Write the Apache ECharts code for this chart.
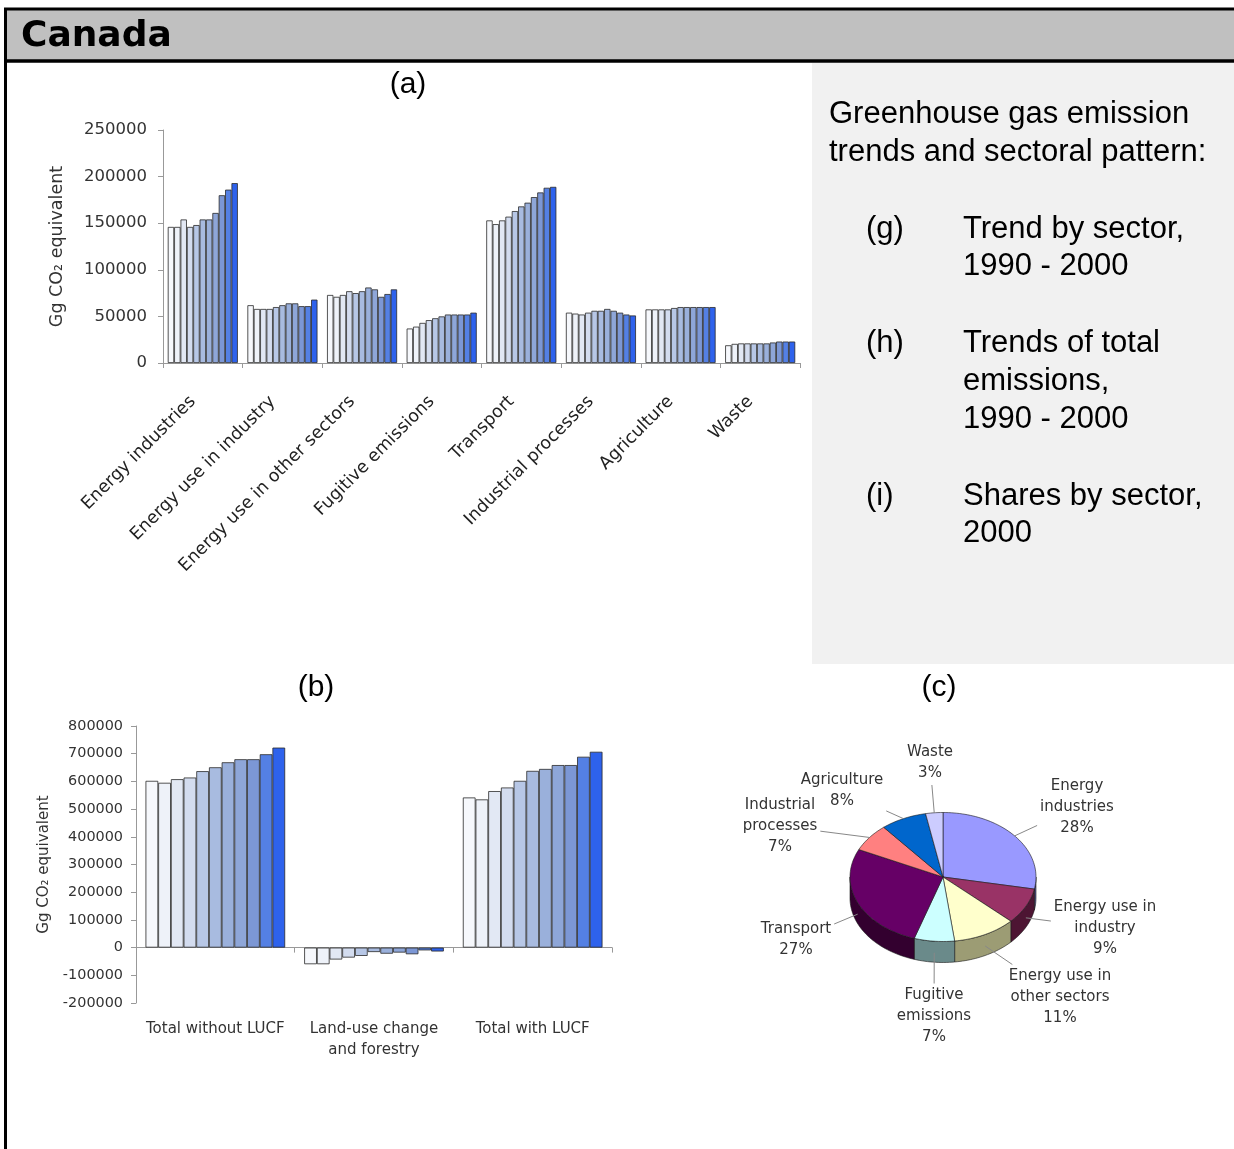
<!DOCTYPE html>
<html><head><meta charset="utf-8">
<script src="https://cdn.jsdelivr.net/npm/echarts@6/dist/echarts.min.js"></script>
<style>html,body{margin:0;padding:0;background:#fff;}#c{width:1234px;height:1149px;}</style>
</head><body><div id="c"></div>
<script>
// ---------- DATA ----------
const years = ['1990','1991','1992','1993','1994','1995','1996','1997','1998','1999','2000'];
const sectors = ['Energy industries','Energy use in industry','Energy use in other sectors','Fugitive emissions','Transport','Industrial processes','Agriculture','Waste'];
const energyIndustries   = [146000,146000,154000,146000,148000,154000,154000,161000,180000,186000,193000];
const energyUseIndustry  = [62000,58000,58000,58000,60000,62000,64000,64000,61000,61000,68000];
const energyUseOther     = [73000,71000,73000,77000,75000,77000,81000,79000,71000,74000,79000];
const fugitiveEmissions  = [37000,39000,43000,46000,48000,50000,52000,52000,52000,52000,54000];
const transport          = [153000,149000,153000,157000,163000,168000,172000,178000,183000,188000,189000];
const industrialProc     = [54000,53000,52000,54000,56000,56000,58000,56000,54000,52000,51000];
const agriculture        = [57500,57500,57500,57500,59000,60000,60000,60000,60000,60000,60000];
const waste              = [19000,20500,21000,21000,21000,21000,21000,22000,23000,23000,23000];
const sectorSeries = [energyIndustries,energyUseIndustry,energyUseOther,fugitiveEmissions,transport,industrialProc,agriculture,waste];

const totalCategories  = ['Total without LUCF','Land-use change\nand forestry','Total with LUCF'];
const totalWithoutLUCF = [602000,595000,608000,614000,637000,651000,669000,680000,680000,698000,722000];
const landUseChange    = [-60000,-60000,-43000,-36000,-30000,-16000,-22000,-18000,-24000,-10000,-14000];
const totalWithLUCF    = [542000,535000,565000,578000,602000,638000,645000,659000,659000,689000,707000];

const pieNames  = ['Energy\nindustries','Energy use in\nindustry','Energy use in\nother sectors','Fugitive\nemissions','Transport','Industrial\nprocesses','Agriculture','Waste'];
const pieShares = [28,9,11,7,27,7,8,3];

const yAxisTicksA = [0,50000,100000,150000,200000,250000];
const yAxisTicksB = [-200000,-100000,0,100000,200000,300000,400000,500000,600000,700000,800000];

// ---------- STYLE / LAYOUT ----------
const yearColors = ['#f6f8fc','#eef2f9','#e2e8f4','#d3dcef','#b7c7e6','#a8bbe0','#9ab0db','#8ea6d8','#7c97d5','#5480e4','#2e62ec'];
const pieColors  = ['#9999ff','#993366','#ffffcc','#ccffff','#660066','#ff8080','#0066cc','#ccccff'];
const pieSide    = ['#55558f','#4d1533','#9c9c74','#6a8a8a','#33002f','#8f4747','#003a73','#77779a'];
const PIE = {cx: 943, cy: 877, rx: 93, ry: 64.5, depth: 21};
const pieLabelOffset = [[134,-70],[162,51],[117,120],[-9,139],[-147,63],[-163,-51],[-101,-86],[-13,-114]];
const FONT = '"DejaVu Sans", sans-serif';
const BIG = '"Liberation Sans", Arial, sans-serif';

// ---------- BUILD ----------
const chart = echarts.init(document.getElementById('c'), null, {renderer: 'canvas'});

const seriesA = years.map((y, i) => ({
  type: 'bar', name: y, xAxisIndex: 0, yAxisIndex: 0,
  data: sectorSeries.map(arr => arr[i]),
  barGap: '0%', barCategoryGap: '12%',
  itemStyle: {color: yearColors[i], borderColor: '#2a2a2a', borderWidth: 0.8},
  animation: false
}));
const seriesB = years.map((y, i) => ({
  type: 'bar', name: y, xAxisIndex: 1, yAxisIndex: 1,
  data: [totalWithoutLUCF[i], landUseChange[i], totalWithLUCF[i]],
  barGap: '0%', barCategoryGap: '12%',
  itemStyle: {color: yearColors[i], borderColor: '#2a2a2a', borderWidth: 0.8},
  animation: false
}));

const pieTotal = pieShares.reduce((a, b) => a + b, 0);
const pieStart = []; let acc = 0; pieShares.forEach(v => { pieStart.push(acc); acc += v; });
function ellPt(t, dy) { return [PIE.cx + PIE.rx * Math.sin(t), PIE.cy - PIE.ry * Math.cos(t) + (dy || 0)]; }
function arcPts(a0, a1, dy) {
  const n = Math.max(2, Math.ceil((a1 - a0) / 0.03));
  const pts = [];
  for (let k = 0; k <= n; k++) pts.push(ellPt(a0 + (a1 - a0) * k / n, dy));
  return pts;
}
const measureCtx = document.createElement('canvas').getContext('2d');
const PIE_FONT_SIZE = 15, PIE_LH = 21;
function textBox(txt) {
  measureCtx.font = PIE_FONT_SIZE + 'px ' + FONT;
  const lines = txt.split('\n');
  const w = Math.max(...lines.map(l => measureCtx.measureText(l).width));
  return [w / 2, lines.length * PIE_LH / 2];
}

const pieSeries = {
  type: 'custom', coordinateSystem: 'none', animation: false,
  data: pieShares.map(v => [v]),
  renderItem: function (params, api) {
    const i = params.dataIndex;
    const v = api.value(0);
    const a0 = pieStart[i] / pieTotal * 2 * Math.PI;
    const a1 = (pieStart[i] + v) / pieTotal * 2 * Math.PI;
    const children = [];
    const s0 = Math.max(a0, Math.PI / 2), s1 = Math.min(a1, 3 * Math.PI / 2);
    if (s1 > s0) {
      const top = arcPts(s0, s1, 0);
      const bot = arcPts(s0, s1, PIE.depth).reverse();
      children.push({type: 'polygon', shape: {points: top.concat(bot)},
        style: {fill: pieSide[i], stroke: '#1a1a1a', lineWidth: 0.6}});
    }
    const face = [[PIE.cx, PIE.cy]].concat(arcPts(a0, a1, 0));
    children.push({type: 'polygon', shape: {points: face},
      style: {fill: pieColors[i], stroke: '#1a1a1a', lineWidth: 0.6}});
    // label
    const m = (a0 + a1) / 2;
    const txt = pieNames[i] + '\n' + v + '%';
    const L = [PIE.cx + pieLabelOffset[i][0], PIE.cy + pieLabelOffset[i][1]];
    const E = ellPt(m, Math.cos(m) < 0 ? PIE.depth * 0.55 : 0);
    const hb = textBox(txt);
    const dx = E[0] - L[0], dy = E[1] - L[1];
    const s = Math.min((hb[0] + 3) / Math.max(Math.abs(dx), 1e-6), (hb[1] + 1) / Math.max(Math.abs(dy), 1e-6));
    const end = [L[0] + dx * s, L[1] + dy * s];
    children.push({type: 'polyline', shape: {points: [E, end]}, style: {stroke: '#888', lineWidth: 1, fill: null}});
    children.push({type: 'text', style: {text: txt, x: L[0], y: L[1], align: 'center', verticalAlign: 'middle',
      font: PIE_FONT_SIZE + 'px ' + FONT, lineHeight: PIE_LH, fill: '#333'}});
    return {type: 'group', children: children};
  }
};

const axisLineStyle = {color: '#999', width: 1};
const option = {
  backgroundColor: '#fff',
  animation: false,
  grid: [
    {left: 163, top: 130, width: 637, height: 233},
    {left: 136, top: 726, width: 476, height: 277}
  ],
  xAxis: [
    {type: 'category', gridIndex: 0, data: sectors,
     axisLine: {lineStyle: axisLineStyle}, axisTick: {show: true, length: 5, lineStyle: axisLineStyle},
     axisLabel: {rotate: 45, interval: 0, margin: 26, padding: [0, 14, 0, 0], fontFamily: FONT, fontSize: 17.5, color: '#222'}},
    {type: 'category', gridIndex: 1, data: totalCategories,
     axisLine: {onZero: true, lineStyle: axisLineStyle}, axisTick: {show: true, length: 5, lineStyle: axisLineStyle},
     axisLabel: {interval: 0, margin: 16, fontFamily: FONT, fontSize: 15, lineHeight: 21, color: '#333'}}
  ],
  yAxis: [
    {type: 'value', gridIndex: 0, min: yAxisTicksA[0], max: yAxisTicksA[yAxisTicksA.length - 1], interval: 50000,
     splitLine: {show: false}, axisLine: {show: true, lineStyle: axisLineStyle},
     axisTick: {show: true, length: 5, lineStyle: axisLineStyle},
     axisLabel: {margin: 16, fontFamily: FONT, fontSize: 16.5, color: '#333', formatter: v => String(v)},
     name: 'Gg CO\u2082 equivalent', nameLocation: 'middle', nameGap: 97, nameRotate: 90,
     nameTextStyle: {fontFamily: FONT, fontSize: 17.5, color: '#333'}},
    {type: 'value', gridIndex: 1, min: yAxisTicksB[0], max: yAxisTicksB[yAxisTicksB.length - 1], interval: 100000,
     splitLine: {show: false}, axisLine: {show: true, lineStyle: axisLineStyle},
     axisTick: {show: true, length: 5, lineStyle: axisLineStyle},
     axisLabel: {margin: 13, fontFamily: FONT, fontSize: 14.4, color: '#333', formatter: v => String(v)},
     name: 'Gg CO\u2082 equivalent', nameLocation: 'middle', nameGap: 84, nameRotate: 90,
     nameTextStyle: {fontFamily: FONT, fontSize: 15, color: '#333'}}
  ],
  graphic: [
    {type: 'rect', z: -10, shape: {x: 5, y: 9, width: 1229, height: 52}, style: {fill: '#c0c0c0'}},
    {type: 'rect', z: -10, shape: {x: 812, y: 63, width: 422, height: 601}, style: {fill: '#f1f1f1'}},
    {type: 'line', shape: {x1: 4, y1: 9, x2: 1234, y2: 9}, style: {stroke: '#000', lineWidth: 3}},
    {type: 'line', shape: {x1: 4, y1: 61, x2: 1234, y2: 61}, style: {stroke: '#000', lineWidth: 3.5}},
    {type: 'line', shape: {x1: 5.5, y1: 8, x2: 5.5, y2: 1149}, style: {stroke: '#000', lineWidth: 3}},
    {type: 'text', style: {text: 'Canada', x: 21, y: 37, verticalAlign: 'middle', font: 'bold 36px "DejaVu Sans", sans-serif', fill: '#000'}},
    {type: 'text', style: {text: '(a)', x: 408, y: 85, align: 'center', verticalAlign: 'middle', font: '30px ' + BIG, fill: '#000'}},
    {type: 'text', style: {text: '(b)', x: 316, y: 688, align: 'center', verticalAlign: 'middle', font: '30px ' + BIG, fill: '#000'}},
    {type: 'text', style: {text: '(c)', x: 939, y: 688, align: 'center', verticalAlign: 'middle', font: '30px ' + BIG, fill: '#000'}},
    {type: 'text', style: {text: 'Greenhouse gas emission', x: 829, y: 114, verticalAlign: 'middle', font: '31px ' + BIG, fill: '#000'}},
    {type: 'text', style: {text: 'trends and sectoral pattern:', x: 829, y: 152, verticalAlign: 'middle', font: '31px ' + BIG, fill: '#000'}},
    {type: 'text', style: {text: '(g)', x: 866, y: 229, verticalAlign: 'middle', font: '31px ' + BIG, fill: '#000'}},
    {type: 'text', style: {text: 'Trend by sector,', x: 963, y: 229, verticalAlign: 'middle', font: '31px ' + BIG, fill: '#000'}},
    {type: 'text', style: {text: '1990 - 2000', x: 963, y: 266, verticalAlign: 'middle', font: '31px ' + BIG, fill: '#000'}},
    {type: 'text', style: {text: '(h)', x: 866, y: 343, verticalAlign: 'middle', font: '31px ' + BIG, fill: '#000'}},
    {type: 'text', style: {text: 'Trends of total', x: 963, y: 343, verticalAlign: 'middle', font: '31px ' + BIG, fill: '#000'}},
    {type: 'text', style: {text: 'emissions,', x: 963, y: 381, verticalAlign: 'middle', font: '31px ' + BIG, fill: '#000'}},
    {type: 'text', style: {text: '1990 - 2000', x: 963, y: 419, verticalAlign: 'middle', font: '31px ' + BIG, fill: '#000'}},
    {type: 'text', style: {text: '(i)', x: 866, y: 496, verticalAlign: 'middle', font: '31px ' + BIG, fill: '#000'}},
    {type: 'text', style: {text: 'Shares by sector,', x: 963, y: 496, verticalAlign: 'middle', font: '31px ' + BIG, fill: '#000'}},
    {type: 'text', style: {text: '2000', x: 963, y: 533, verticalAlign: 'middle', font: '31px ' + BIG, fill: '#000'}}
  ],
  series: seriesA.concat(seriesB).concat([pieSeries])
};
chart.setOption(option);
</script>
</body></html>
